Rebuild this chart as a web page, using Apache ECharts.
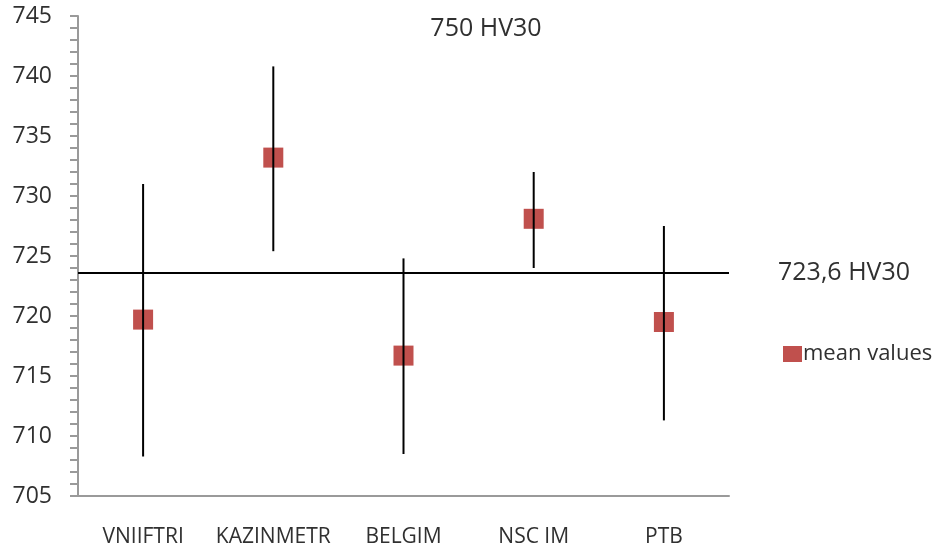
<!DOCTYPE html>
<html>
<head>
<meta charset="utf-8">
<script src="https://cdn.jsdelivr.net/npm/echarts@6/dist/echarts.min.js"></script>
<style>html,body{margin:0;padding:0;background:#fff}#c{width:937px;height:552px}</style>
</head>
<body>
<div id="c"></div>
<script>
const categories = ['VNIIFTRI', 'KAZINMETR', 'BELGIM', 'NSC IM', 'PTB'];
const meanValues = [719.7, 733.2, 716.7, 728.1, 719.5];
const upperValues = [731.0, 740.8, 724.8, 732.0, 727.5];
const lowerValues = [708.3, 725.4, 708.5, 724.0, 711.3];
const referenceValue = 723.6;
const referenceLabel = '723,6 HV30';
const titleText = '750 HV30';
const yTicks = { min: 705, max: 745, interval: 5 };

const errorData = categories.map((c, i) => [i, lowerValues[i], upperValues[i]]);
const font = 'Open Sans';

const chart = echarts.init(document.getElementById('c'));
chart.setOption({
  animation: false,
  backgroundColor: '#fff',
  title: {
    text: titleText,
    left: 481, top: 11, textAlign: 'center',
    textStyle: { fontFamily: font, fontSize: 25, fontWeight: 'normal', color: '#303030' }
  },
  legend: {
    data: ['mean values'],
    left: 778, top: 338,
    icon: 'rect', itemWidth: 19, itemHeight: 16, itemGap: 4,
    textStyle: { fontFamily: font, fontSize: 22, color: '#303030', padding: [0, 0, 0, -4] }
  },
  grid: { left: 78, right: 208, top: 16, bottom: 56 },
  xAxis: {
    type: 'category', data: categories,
    axisLine: { lineStyle: { color: '#9a9a9a', width: 2 } },
    axisTick: { show: false },
    axisLabel: { interval: 0, fontFamily: font, fontSize: 21, color: '#303030', margin: 31 }
  },
  yAxis: {
    type: 'value', min: yTicks.min, max: yTicks.max, interval: yTicks.interval,
    axisLine: { show: true, lineStyle: { color: '#9a9a9a', width: 2 } },
    axisTick: { show: true, length: 8, lineStyle: { color: '#9a9a9a', width: 2 } },
    minorTick: { show: true, splitNumber: 5, length: 8, lineStyle: { color: '#9a9a9a', width: 2 } },
    splitLine: { show: false },
    axisLabel: { fontFamily: font, fontSize: 23, color: '#303030', margin: 26 }
  },
  series: [
    {
      name: 'mean values', type: 'scatter', symbol: 'rect', symbolSize: 20,
      itemStyle: { color: '#C0504D', opacity: 1 },
      data: meanValues, z: 2,
      markLine: {
        silent: true, symbol: 'none',
        lineStyle: { color: '#000', width: 2, type: 'solid' },
        label: {
          show: true, position: 'end', distance: 49, formatter: referenceLabel,
          fontFamily: font, fontSize: 25, color: '#303030', padding: [14, 0, 0, 0]
        },
        data: [{ yAxis: referenceValue }]
      }
    },
    {
      name: 'error', type: 'custom', z: 3,
      data: errorData,
      renderItem: function (params, api) {
        const lo = api.coord([api.value(0), api.value(1)]);
        const hi = api.coord([api.value(0), api.value(2)]);
        return {
          type: 'line',
          shape: { x1: lo[0], y1: lo[1], x2: hi[0], y2: hi[1] },
          style: { stroke: '#000', lineWidth: 2 }
        };
      }
    }
  ]
});
</script>
</body>
</html>
